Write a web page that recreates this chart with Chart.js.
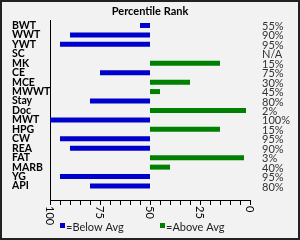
<!DOCTYPE html>
<html>
<head>
<meta charset="utf-8">
<script src="https://cdn.jsdelivr.net/npm/chart.js@4"></script>
<style>
  html, body { margin: 0; padding: 0; background: #f2f2f2; }
  #wrap { width: 300px; height: 240px; }
</style>
</head>
<body>
<div id="wrap"><canvas id="chart" width="300" height="240"></canvas></div>
<script>
const traits = ['BWT', 'WWT', 'YWT', 'SC', 'MK', 'CE', 'MCE', 'MWWT', 'Stay', 'Doc',
                'MWT', 'HPG', 'CW', 'REA', 'FAT', 'MARB', 'YG', 'API'];
const percentRank = [55, 90, 95, null, 15, 75, 30, 45, 80, 2, 100, 15, 95, 90, 3, 40, 95, 80];
const axisLabels = [100, 75, 50, 25, 0];
const average = 50;

const FONT = 'Lato, "Open Sans", sans-serif';

// blue bars run from 50 out to the rank when it is 50 or worse, green ones the other way
const belowAvg = [];
const aboveAvg = [];
percentRank.forEach((v, i) => {
    if (v === null) return;
    if (v >= average) belowAvg.push({ x: [average, v], y: i });
    else aboveAvg.push({ x: [average, v], y: i });
});

const extras = {
    id: 'extras',
    beforeDraw(chart) {
        const { ctx, width, height } = chart;
        ctx.save();
        ctx.fillStyle = '#f2f2f2';
        ctx.fillRect(0, 0, width, height);
        ctx.restore();
    },
    afterDraw(chart) {
        const { ctx, width, height } = chart;
        const xs = chart.scales.x;
        const ys = chart.scales.y;
        ctx.save();

        // title
        ctx.fillStyle = '#000';
        ctx.font = 'bold 11px ' + FONT;
        ctx.textAlign = 'center';
        ctx.textBaseline = 'middle';
        ctx.fillText('Percentile Rank', 150, 11);

        // percent column on the right
        ctx.font = '11px ' + FONT;
        ctx.fillStyle = '#333';
        ctx.textAlign = 'left';
        percentRank.forEach((v, i) => {
            const txt = v === null ? 'N/A' : v + '%';
            ctx.fillText(txt, xs.right + 12, ys.getPixelForValue(i) + 1);
        });

        // x tick labels, turned to read downwards
        ctx.fillStyle = '#000';
        axisLabels.forEach(v => {
            ctx.save();
            ctx.translate(xs.getPixelForValue(v), xs.top + 6);
            ctx.rotate(Math.PI / 2);
            ctx.textAlign = 'left';
            ctx.textBaseline = 'middle';
            ctx.fillText(String(v), 0, 0);
            ctx.restore();
        });

        // legend
        const items = [
            { x: 60, ds: chart.data.datasets[0] },
            { x: 160, ds: chart.data.datasets[1] }
        ];
        items.forEach(it => {
            ctx.fillStyle = it.ds.backgroundColor;
            ctx.fillRect(it.x, 223, 5, 5);
            ctx.fillStyle = '#222';
            ctx.textAlign = 'left';
            ctx.textBaseline = 'middle';
            ctx.fillText(it.ds.label, it.x + 6, 227);
        });

        // frame
        ctx.strokeStyle = '#222';
        ctx.lineWidth = 2;
        ctx.strokeRect(1, 1, width - 2, height - 2);
        ctx.restore();
    }
};

new Chart(document.getElementById('chart'), {
    type: 'bar',
    data: {
        datasets: [
            { label: '=Below Avg', data: belowAvg, backgroundColor: '#0000cc', grouped: false, maxBarThickness: 5 },
            { label: '=Above Avg', data: aboveAvg, backgroundColor: '#008000', grouped: false, maxBarThickness: 5 }
        ]
    },
    options: {
        indexAxis: 'y',
        responsive: false,
        animation: false,
        layout: { padding: { top: 20, left: 12, right: 50, bottom: 35 } },
        scales: {
            x: {
                type: 'linear',
                min: 0,
                max: 100,
                reverse: true,
                afterBuildTicks: axis => {
                    axis.ticks = [];
                    for (let v = 0; v <= 100; v += 5) axis.ticks.push({ value: v });
                },
                ticks: { display: false },
                grid: { drawOnChartArea: false, drawTicks: true, tickLength: 5, color: '#000' },
                border: { display: true, color: '#000', width: 1 }
            },
            y: {
                type: 'linear',
                reverse: true,
                min: -0.05,
                max: traits.length - 1 + 0.95,
                afterBuildTicks: axis => {
                    axis.ticks = traits.map((_, i) => ({ value: i }));
                },
                afterFit: scale => { scale.width = 38; },
                ticks: {
                    autoSkip: false,
                    crossAlign: 'far',
                    color: '#000',
                    font: { family: FONT, size: 10.5, weight: 'bold', lineHeight: 1 },
                    callback: v => traits[v]
                },
                grid: { display: false },
                border: { display: true, color: '#000', width: 1 }
            }
        },
        plugins: {
            legend: { display: false },
            title: { display: false },
            tooltip: { enabled: false }
        }
    },
    plugins: [extras]
});
</script>
</body>
</html>
